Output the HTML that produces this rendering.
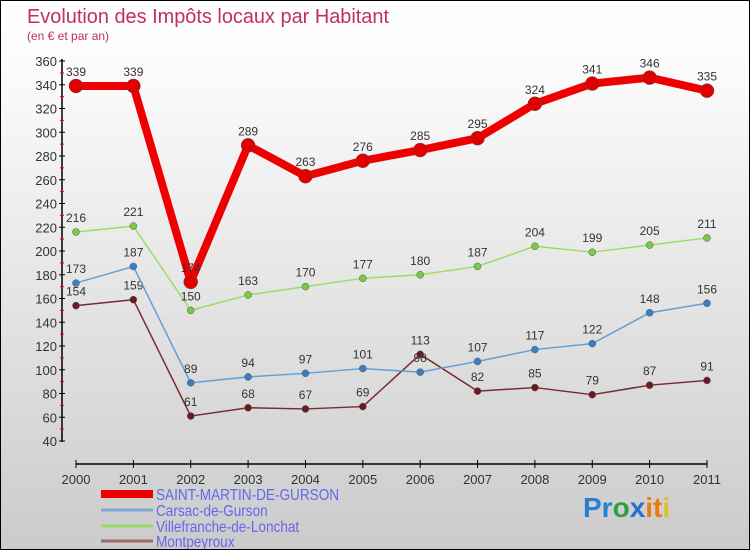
<!DOCTYPE html>
<html><head><meta charset="utf-8"><style>
body{margin:0;}
#wrap{width:748px;height:548px;border:1px solid #000;background:linear-gradient(#fff,#fafafa 15%,#cbcbcb);position:relative;overflow:hidden;font-family:"Liberation Sans",sans-serif;}
svg{position:absolute;left:0;top:0;}
</style></head><body>
<div id="wrap">
<svg id="chart" width="750" height="550">
<text x="26" y="22" font-size="20" fill="#c0305a" textLength="362" lengthAdjust="spacingAndGlyphs">Evolution des Impôts locaux par Habitant</text>
<text x="26" y="39" font-size="12" fill="#c0305a">(en € et par an)</text>
<g id="axes"></g><g id="series"></g><g id="legend"></g>
<text x="582" y="516" font-size="28" font-weight="bold"><tspan fill="#2a7fd0">Pr</tspan><tspan fill="#2aa040">o</tspan><tspan fill="#2a6fd0">x</tspan><tspan fill="#f07a10">it</tspan><tspan fill="#e0c020">i</tspan></text>
</svg>
</div>
<script>
const years=[2000,2001,2002,2003,2004,2005,2006,2007,2008,2009,2010,2011];
const yTicks=[40,60,80,100,120,140,160,180,200,220,240,260,280,300,320,340,360];
const saintMartin=[339,339,174,289,263,276,285,295,324,341,346,335];
const carsac=[173,187,89,94,97,101,98,107,117,122,148,156];
const villefranche=[216,221,150,163,170,177,180,187,204,199,205,211];
const montpeyroux=[154,159,61,68,67,69,113,82,85,79,87,91];
const names=["SAINT-MARTIN-DE-GURSON","Carsac-de-Gurson","Villefranche-de-Lonchat","Montpeyroux"];
const NS="http://www.w3.org/2000/svg";
function X(i){return 75+i*(706-75)/11;}
function Y(v){return 60+(360-v)*380/320;}
function mk(tag,attrs,parent){const e=document.createElementNS(NS,tag);for(const k in attrs)e.setAttribute(k,attrs[k]);parent.appendChild(e);return e;}
const ax=document.getElementById('axes');
let l=mk('line',{x1:61,y1:58,x2:61,y2:441,stroke:'#000','stroke-width':1.5},ax);


l=mk('line',{x1:75,y1:463,x2:706,y2:463,stroke:'#000','stroke-width':1.5},ax);


yTicks.forEach((v,i)=>{
  mk('line',{x1:58,y1:Y(v),x2:64,y2:Y(v),stroke:'#000'},ax);
  if(i<yTicks.length-1)mk('line',{x1:59,y1:Y(v+10),x2:63,y2:Y(v+10),stroke:'#e00'},ax);
  const t=mk('text',{x:56,y:Y(v)+5,'font-size':13,'text-anchor':'end',fill:'#333'},ax);
  t.textContent=v;
  
  
});
years.forEach((y,i)=>{
  mk('line',{x1:X(i),y1:459,x2:X(i),y2:467,stroke:'#000'},ax);
  const t=mk('text',{x:X(i),y:483,'font-size':13,'text-anchor':'middle',fill:'#333'},ax);
  t.textContent=y;
  
  
});
const sg=document.getElementById('series');
const defs=[
 {d:montpeyroux,c:'#7a2a30',f:'#6a1a20',w:1.5,r:3.5,n:'montpeyroux'},
 {d:carsac,c:'#5fa0d8',f:'#3a80c0',w:1.5,r:3.5,n:'carsac'},
 {d:villefranche,c:'#99dd66',f:'#77cc44',w:1.5,r:3.5,n:'villefranche'},
 {d:saintMartin,c:'#ee0000',f:'#e00000',w:8,r:7,n:'saint-martin'}
];
defs.forEach(s=>{
  const g=mk('g',{},sg);
  
  
  const p=mk('polyline',{points:s.d.map((v,i)=>X(i)+','+Y(v)).join(' '),fill:'none',stroke:s.c,'stroke-width':s.w,'stroke-linejoin':'round'},g);
  
  
  s.d.forEach((v,i)=>{
    const c=mk('circle',{cx:X(i),cy:Y(v),r:s.r,fill:s.f,stroke:'#555','stroke-width':0.5},g);
    
    
    const t=mk('text',{x:X(i),y:Y(v)-10,'font-size':12,'text-anchor':'middle',fill:'#333'},g);
    t.textContent=v;
    
    
  });
});
const lg=document.getElementById('legend');
const lcol=['#ee0000','#7aaad0','#99dd66','#9a6a6a'];
const lw=[8,3,3,3];
const ly=[493,509,525,540];
names.forEach((n,i)=>{
  const g=mk('g',{},lg);
  
  
  mk('line',{x1:100,y1:ly[i],x2:152,y2:ly[i],stroke:lcol[i],'stroke-width':lw[i]},g);
  const t=mk('text',{x:155,y:ly[i]+6,'font-size':16,fill:'#6666ee'},g);
  t.textContent=n;
  t.setAttribute('transform','translate(155,0) scale(0.85,1) translate(-155,0)');
});
</script>
</body></html>
